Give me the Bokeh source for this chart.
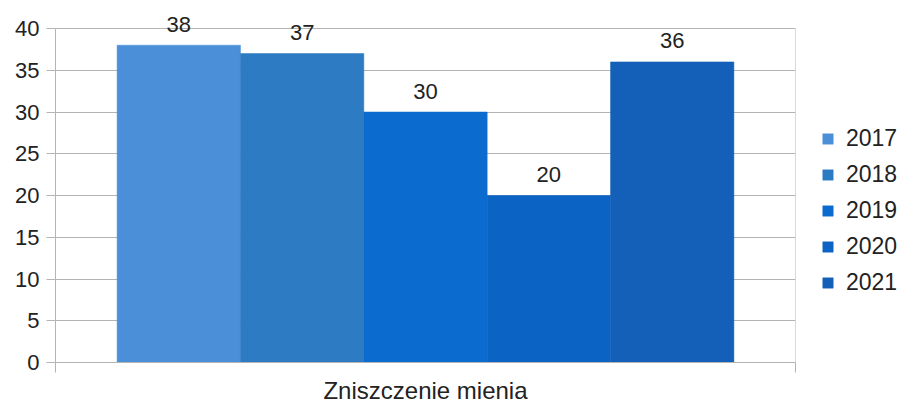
from bokeh.plotting import figure
from bokeh.models import Range1d, FixedTicker, Legend, LegendItem
from bokeh.core.properties import value
from bokeh.embed import file_html
from bokeh.resources import INLINE

categories = ["Zniszczenie mienia"]
years = ["2017", "2018", "2019", "2020", "2021"]
counts = [38, 37, 30, 20, 36]
colors = ["#4a8fd8", "#2c7bc3", "#0b6bcf", "#0b63c4", "#1460b8"]
y_ticks = [0, 5, 10, 15, 20, 25, 30, 35, 40]

FONT = "Liberation Sans"
TXT = "#222222"
GRID = "#b4b4b4"

Y_MAX = 40
# extra headroom above 40 so the value labels are not clipped
p = figure(frame_width=740, frame_height=362,
           x_range=Range1d(0, 1), y_range=Range1d(0, Y_MAX + 28 / 8.35),
           output_backend="svg", toolbar_location=None,
           min_border_left=55, min_border_top=0, min_border_right=106,
           min_border_bottom=42)
p.background_fill_color = "white"
p.border_fill_color = "white"
p.outline_line_color = None

bar_w = 0.8335 / len(years)
xs = [0.5 + (i - (len(years) - 1) / 2) * bar_w for i in range(len(years))]
items = []
for xc, yr, v, c in zip(xs, years, counts, colors):
    r = p.vbar(x=[xc], top=[v], bottom=0, width=bar_w, fill_color=c,
               line_color=c, line_width=0.5)
    items.append(LegendItem(label=yr, renderers=[r]))

p.text(x=xs, y=counts, text=[str(v) for v in counts], text_align="center",
       text_baseline="middle", y_offset=-21,
       text_font=value(FONT), text_font_size="22px", text_color=TXT)

# right border of the plot area
p.segment(x0=[1], y0=[0], x1=[1], y1=[Y_MAX], line_color=GRID, line_width=1)

# axes
p.xgrid.visible = False
p.ygrid.ticker = FixedTicker(ticks=y_ticks)
p.ygrid.grid_line_color = GRID

p.yaxis.ticker = FixedTicker(ticks=y_ticks)
p.yaxis.bounds = (0, Y_MAX)
p.yaxis.axis_line_color = GRID
p.yaxis.major_tick_line_color = GRID
p.yaxis.major_tick_out = 9
p.yaxis.major_tick_in = 0
p.yaxis.minor_tick_line_color = None
p.yaxis.major_label_standoff = 7
p.yaxis.major_label_text_font = FONT
p.yaxis.major_label_text_font_size = "22px"
p.yaxis.major_label_text_color = TXT

p.xaxis.ticker = FixedTicker(ticks=[0.5], minor_ticks=[0, 1])
p.xaxis.major_label_overrides = {0.5: categories[0]}
p.xaxis.axis_line_color = GRID
p.xaxis.major_tick_line_color = None
p.xaxis.minor_tick_line_color = GRID
p.xaxis.minor_tick_out = 10
p.xaxis.minor_tick_in = 0
p.xaxis.major_label_standoff = 4
p.xaxis.major_label_text_font = FONT
p.xaxis.major_label_text_font_size = "24px"
p.xaxis.major_label_text_color = TXT

legend = Legend(items=items, location=(26, 66), orientation="vertical",
                glyph_width=13, glyph_height=13, label_height=20, spacing=9,
                label_standoff=12, padding=0, margin=0,
                border_line_color=None, background_fill_alpha=0,
                label_text_font=FONT, label_text_font_size="23px",
                label_text_color=TXT)
p.add_layout(legend, "right")

open("out.html", "w").write(file_html(p, INLINE))
